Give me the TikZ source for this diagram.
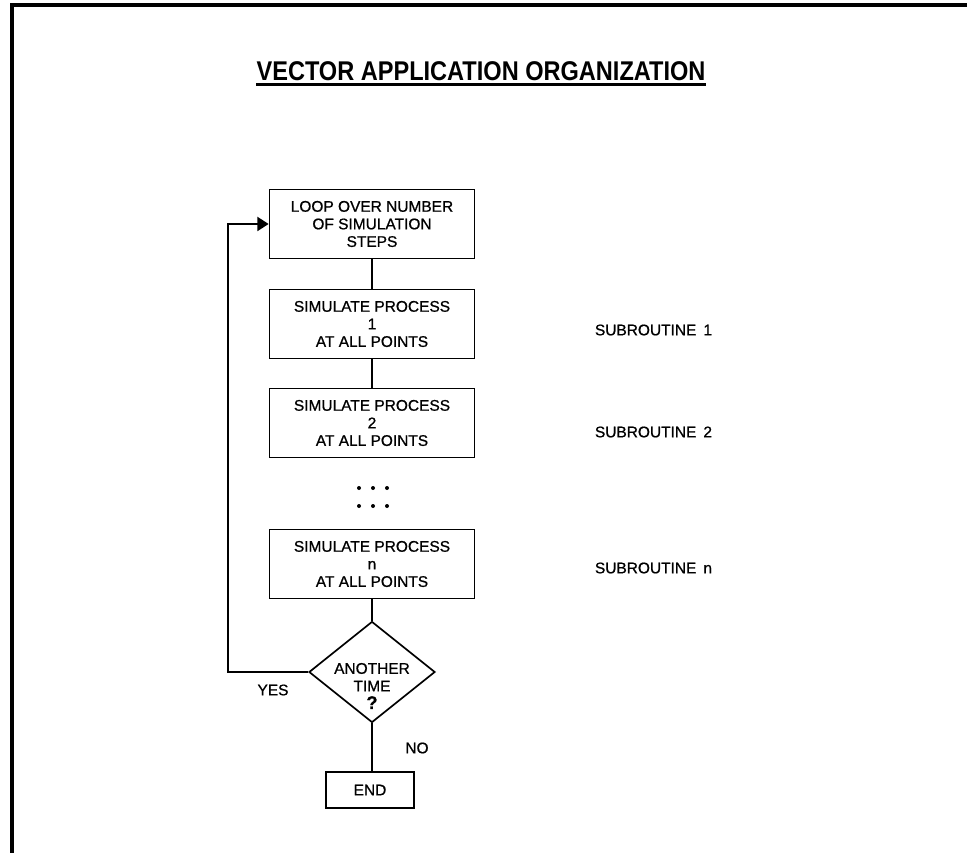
\documentclass[tikz,border=0pt]{standalone}
\usepackage{fontspec}
\usepackage{graphicx}
\setmainfont{Liberation Sans}
\newfontfamily\medfont{Liberation Sans}[FakeBold=0.8]
\usetikzlibrary{arrows.meta,shapes.geometric}

\tikzset{
  box/.style={draw, line width=1.2pt, minimum width=5.125cm, minimum height=1.725cm,
    align=center, inner sep=2pt, font=\medfont\fontsize{11}{12.5}\selectfont},
  decide/.style={draw, diamond, line width=1.2pt, minimum width=3.15cm,
    minimum height=2.525cm, inner sep=0pt},
  lbl/.style={font=\medfont\fontsize{11}{12.5}\selectfont},
  link/.style={line width=1.2pt},
}

\begin{document}
\begin{tikzpicture}[x=0.025cm,y=-0.025cm]
			%%%%% START %%%%%
			\useasboundingbox (0,0) rectangle (967,853);
			
			\draw[line width=2.2pt] (12,853) -- (12,5) -- (967,5);
			
			\node[inner sep=0pt, font=\fontsize{16.75}{18}\selectfont\bfseries] (title) at (481,71) {\scalebox{1}[1.15]{VECTOR APPLICATION ORGANIZATION}};
			\draw[line width=1.8pt] ([yshift=-3pt]title.base west) -- ([yshift=-3pt]title.base east);
			
			\node[box] (loop) at (372,224) {LOOP OVER NUMBER\\OF SIMULATION\\STEPS};
			\node[box] (sim1) at (372,324) {SIMULATE PROCESS\\1\\AT ALL POINTS};
			\node[box] (sim2) at (372,423) {SIMULATE PROCESS\\2\\AT ALL POINTS};
			\node[box] (simn) at (372,564) {SIMULATE PROCESS\\n\\AT ALL POINTS};
			
			\foreach \dy in {488,506}
				\foreach \dx in {359,373,387}
					\fill (\dx,\dy) circle (0.05cm);
			
			\node[decide] (ask) at (372,672) {};
			\node[lbl, align=center, inner sep=0pt] (asktext) at (372,686) {ANOTHER\\TIME\\{\bfseries\fontsize{13}{13}\selectfont ?}};
			\node[draw, line width=1.2pt, minimum width=2.2cm, minimum height=0.9cm, lbl] (end) at (370,790) {END};
			
			\node[lbl, anchor=west] (sub1) at (590,330) {SUBROUTINE\hspace{5pt}1};
			\node[lbl, anchor=west] (sub2) at (590,432) {SUBROUTINE\hspace{5pt}2};
			\node[lbl, anchor=west] (subn) at (590,568) {SUBROUTINE\hspace{5pt}n};
			\node[lbl] (yes) at (273,690) {YES};
			\node[lbl] (no) at (417,748) {NO};
			
			\draw[link] (loop) -- (sim1);
			\draw[link] (sim1) -- (sim2);
			\draw[link] (simn) -- (ask);
			\draw[link] (ask.south) -- (ask.south |- end.north);
			
			\coordinate (turn) at (228,672);
			\draw[link, -{Triangle[length=8pt,width=10pt]}] (ask.west) -- (turn) |- (loop.west);
			
			%%%%% END %%%%%
\end{tikzpicture}
\end{document}
